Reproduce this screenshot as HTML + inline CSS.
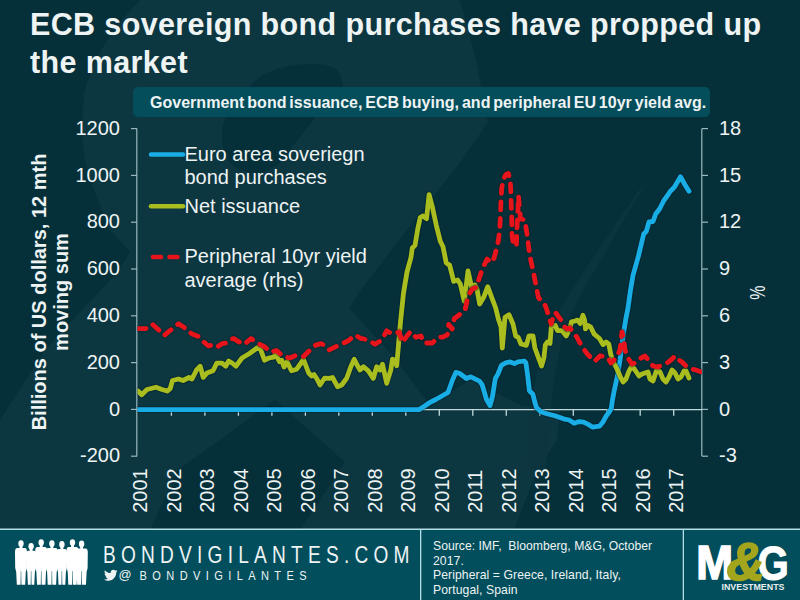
<!DOCTYPE html>
<html><head><meta charset="utf-8"><style>
html,body{margin:0;padding:0;width:800px;height:600px;overflow:hidden;background:#05303a;}
svg{position:absolute;left:0;top:0;display:block}
text{font-family:"Liberation Sans",Arial,sans-serif;}
</style></head><body>
<svg width="800" height="600" viewBox="0 0 800 600">
<rect x="0" y="0" width="800" height="600" fill="#0c3640"/>
<g fill="#05303a">
<path d="M460,0 L800,0 L800,530 L514,530 L537,470 L557,440 L560,412 L520,405 L470,380 L430,405 L392,355 L349,308 L360,291 L410,226 L462,160 L488,122 L476,60 Z"/>
<path d="M0,0 L140,0 Q95,45 84,95 Q78,150 92,185 L110,230 L130,252 L118,272 L82,310 L45,350 L0,420 Z"/>
<path d="M275,400 L345,462 L320,500 L300,530 L150,530 L178,470 Z"/>
<path d="M248,90 C258,72 285,63 318,64 C338,65 344,76 342,88 L316,117 L292,147 C284,164 266,176 247,172 C228,168 221,152 222,132 C223,114 236,100 248,90 Z"/>
</g>
<path d="M639,190 L645,185 Q620,225 600,262 Q575,300 563,335 Q553,375 550,420 L546,470 L526,470 L530,420 Q535,370 546,335 Q565,300 585,270 Z" fill="#0c3640" opacity="0.75"/>
<g fill="#eef3f3" font-weight="bold" font-size="30.5" letter-spacing="0.37">
<text x="30" y="35">ECB sovereign bond purchases have propped up</text>
<text x="30" y="72.7">the market</text>
</g>
<rect x="133" y="87" width="577" height="30" rx="5" fill="#044d5b"/>
<text x="150" y="107.5" fill="#eef3f3" font-weight="bold" font-size="16" letter-spacing="0.02" word-spacing="-1.6">Government bond issuance, ECB buying, and peripheral EU 10yr yield avg.</text>
<g stroke="#9ab8bd" stroke-width="1.2" fill="none">
<line x1="136.8" y1="128.6" x2="136.8" y2="456.2"/>
<line x1="701.8" y1="128.6" x2="701.8" y2="456.2"/>
<line x1="131" y1="128.6" x2="137" y2="128.6"/><line x1="702" y1="128.6" x2="708" y2="128.6"/><line x1="131" y1="175.4" x2="137" y2="175.4"/><line x1="702" y1="175.4" x2="708" y2="175.4"/><line x1="131" y1="222.2" x2="137" y2="222.2"/><line x1="702" y1="222.2" x2="708" y2="222.2"/><line x1="131" y1="269.0" x2="137" y2="269.0"/><line x1="702" y1="269.0" x2="708" y2="269.0"/><line x1="131" y1="315.8" x2="137" y2="315.8"/><line x1="702" y1="315.8" x2="708" y2="315.8"/><line x1="131" y1="362.6" x2="137" y2="362.6"/><line x1="702" y1="362.6" x2="708" y2="362.6"/><line x1="131" y1="409.4" x2="137" y2="409.4"/><line x1="702" y1="409.4" x2="708" y2="409.4"/><line x1="131" y1="456.2" x2="137" y2="456.2"/><line x1="702" y1="456.2" x2="708" y2="456.2"/>
</g>
<g stroke="#c2d9dc" stroke-width="1.3" fill="none">
<line x1="137" y1="409.6" x2="702" y2="409.6"/>
<line x1="171.4" y1="409.6" x2="171.4" y2="415.8"/><line x1="204.9" y1="409.6" x2="204.9" y2="415.8"/><line x1="238.4" y1="409.6" x2="238.4" y2="415.8"/><line x1="271.9" y1="409.6" x2="271.9" y2="415.8"/><line x1="305.4" y1="409.6" x2="305.4" y2="415.8"/><line x1="338.8" y1="409.6" x2="338.8" y2="415.8"/><line x1="372.3" y1="409.6" x2="372.3" y2="415.8"/><line x1="405.8" y1="409.6" x2="405.8" y2="415.8"/><line x1="439.3" y1="409.6" x2="439.3" y2="415.8"/><line x1="472.8" y1="409.6" x2="472.8" y2="415.8"/><line x1="506.3" y1="409.6" x2="506.3" y2="415.8"/><line x1="539.8" y1="409.6" x2="539.8" y2="415.8"/><line x1="573.3" y1="409.6" x2="573.3" y2="415.8"/><line x1="606.8" y1="409.6" x2="606.8" y2="415.8"/><line x1="640.2" y1="409.6" x2="640.2" y2="415.8"/><line x1="673.7" y1="409.6" x2="673.7" y2="415.8"/>
</g>
<g fill="#eef3f3" font-size="20">
<text x="120" y="134.8" text-anchor="end">1200</text><text x="120" y="181.6" text-anchor="end">1000</text><text x="120" y="228.4" text-anchor="end">800</text><text x="120" y="275.2" text-anchor="end">600</text><text x="120" y="322.0" text-anchor="end">400</text><text x="120" y="368.8" text-anchor="end">200</text><text x="120" y="415.6" text-anchor="end">0</text><text x="120" y="462.4" text-anchor="end">-200</text>
<text x="719" y="134.8">18</text><text x="719" y="181.6">15</text><text x="719" y="228.4">12</text><text x="719" y="275.2">9</text><text x="719" y="322.0">6</text><text x="719" y="368.8">3</text><text x="719" y="415.6">0</text><text x="719" y="462.4">-3</text>
<text transform="translate(147.1,512.8) rotate(-90)">2001</text><text transform="translate(180.6,512.8) rotate(-90)">2002</text><text transform="translate(214.1,512.8) rotate(-90)">2003</text><text transform="translate(247.6,512.8) rotate(-90)">2004</text><text transform="translate(281.1,512.8) rotate(-90)">2005</text><text transform="translate(314.6,512.8) rotate(-90)">2006</text><text transform="translate(348.0,512.8) rotate(-90)">2007</text><text transform="translate(381.5,512.8) rotate(-90)">2008</text><text transform="translate(415.0,512.8) rotate(-90)">2009</text><text transform="translate(448.5,512.8) rotate(-90)">2010</text><text transform="translate(482.0,512.8) rotate(-90)">2011</text><text transform="translate(515.5,512.8) rotate(-90)">2012</text><text transform="translate(549.0,512.8) rotate(-90)">2013</text><text transform="translate(582.5,512.8) rotate(-90)">2014</text><text transform="translate(616.0,512.8) rotate(-90)">2015</text><text transform="translate(649.5,512.8) rotate(-90)">2016</text><text transform="translate(682.9,512.8) rotate(-90)">2017</text>
</g>
<g fill="#eef3f3" font-size="20" font-weight="bold" text-anchor="middle">
<text transform="translate(45.6,292) rotate(-90)">Billions of US dollars, 12 mth</text>
<text transform="translate(67.5,292) rotate(-90)">moving sum</text>
</g>
<text transform="translate(764.6,292.7) rotate(-90) scale(0.8,1.08)" fill="#eef3f3" font-size="20" text-anchor="middle">%</text>
<defs><clipPath id="pc"><rect x="137.4" y="100" width="564.4" height="380"/></clipPath></defs>
<g fill="none" stroke-width="4.8" stroke-linecap="round" stroke-linejoin="round" clip-path="url(#pc)">
<polyline stroke="#021f26" stroke-opacity="0.4" stroke-width="7" points="137.0,409.6 419.0,409.6 424.0,406.5 430.5,402.1 435.8,399.5 448.0,392.5 452.4,380.3 455.9,372.4 459.4,373.3 466.4,378.5 470.8,376.8 479.5,381.1 482.1,384.6 486.5,399.5 490.0,405.6 492.6,396.0 495.3,378.5 497.9,374.1 501.4,365.4 505.8,362.8 510.1,361.9 514.5,363.6 518.0,361.9 524.1,361.0 525.9,362.8 527.6,375.0 529.4,390.8 532.9,394.3 534.6,401.3 536.4,407.4 540.8,411.8 546.0,413.5 555.6,416.0 563.5,418.8 569.1,420.0 574.2,423.3 579.2,421.6 583.7,422.2 588.2,424.4 592.7,427.2 599.5,426.1 602.9,422.2 606.2,416.0 609.6,411.5 611.3,408.1 612.4,400.2 614.1,391.2 615.8,383.4 617.5,376.0 620.0,360.0 622.0,344.0 624.0,330.0 626.0,318.0 628.0,308.0 630.3,291.3 633.0,275.3 638.3,256.7 643.7,234.0 646.3,231.3 649.0,222.0 653.0,221.5 655.7,214.0 659.7,208.7 663.7,200.7 667.7,195.3 670.3,191.3 674.3,187.3 680.5,176.7 685.0,184.7 689.0,191.3"/>
<polyline stroke="#19ade6" points="137.0,409.6 419.0,409.6 424.0,406.5 430.5,402.1 435.8,399.5 448.0,392.5 452.4,380.3 455.9,372.4 459.4,373.3 466.4,378.5 470.8,376.8 479.5,381.1 482.1,384.6 486.5,399.5 490.0,405.6 492.6,396.0 495.3,378.5 497.9,374.1 501.4,365.4 505.8,362.8 510.1,361.9 514.5,363.6 518.0,361.9 524.1,361.0 525.9,362.8 527.6,375.0 529.4,390.8 532.9,394.3 534.6,401.3 536.4,407.4 540.8,411.8 546.0,413.5 555.6,416.0 563.5,418.8 569.1,420.0 574.2,423.3 579.2,421.6 583.7,422.2 588.2,424.4 592.7,427.2 599.5,426.1 602.9,422.2 606.2,416.0 609.6,411.5 611.3,408.1 612.4,400.2 614.1,391.2 615.8,383.4 617.5,376.0 620.0,360.0 622.0,344.0 624.0,330.0 626.0,318.0 628.0,308.0 630.3,291.3 633.0,275.3 638.3,256.7 643.7,234.0 646.3,231.3 649.0,222.0 653.0,221.5 655.7,214.0 659.7,208.7 663.7,200.7 667.7,195.3 670.3,191.3 674.3,187.3 680.5,176.7 685.0,184.7 689.0,191.3"/>
<polyline stroke="#021f26" stroke-opacity="0.4" stroke-width="7" points="138.0,391.0 141.7,394.7 147.0,389.5 153.0,388.0 156.0,387.2 162.0,389.5 167.2,391.0 170.2,388.7 172.5,380.5 178.5,379.0 183.0,380.5 189.0,377.5 192.0,379.0 196.5,370.0 200.2,366.2 203.2,377.5 207.0,373.0 213.0,370.7 216.7,363.2 222.0,363.2 225.7,366.2 228.7,361.0 232.0,363.0 236.0,366.2 242.0,358.0 249.5,353.5 257.7,347.5 260.7,349.7 264.5,360.2 269.0,358.0 273.5,357.2 275.7,354.2 279.5,361.7 281.7,360.2 284.0,367.0 287.0,361.7 291.5,370.7 296.7,369.2 303.5,359.5 308.7,373.0 311.7,376.0 314.0,374.5 317.0,379.0 320.0,385.0 324.5,378.2 329.2,378.3 332.5,377.5 337.5,386.7 341.7,385.0 346.7,378.3 350.8,366.7 354.2,359.2 357.5,365.8 360.0,370.0 363.3,366.7 368.3,370.8 373.3,378.3 376.7,366.7 380.0,370.0 382.5,364.2 386.7,383.3 390.8,370.0 392.5,359.2 395.0,360.0 396.7,365.8 398.5,345.0 400.5,322.0 403.5,293.0 407.0,272.0 411.0,257.3 412.3,248.0 415.0,245.3 417.7,229.3 420.3,217.3 423.0,216.0 426.5,218.7 429.1,194.7 432.3,206.7 436.3,225.3 440.3,241.3 443.0,246.7 446.2,262.7 449.7,265.3 453.7,281.3 457.7,280.0 460.3,284.0 464.3,301.3 468.0,271.0 471.5,286.7 475.0,285.0 477.0,289.3 479.7,304.0 483.7,297.3 487.7,286.7 491.7,297.3 495.7,308.0 498.3,318.7 501.0,326.7 502.3,348.0 505.0,317.3 509.0,314.7 513.0,324.0 515.7,336.0 518.3,337.3 521.0,344.0 526.3,345.3 529.0,336.0 533.0,336.0 534.9,348.0 538.3,357.3 541.5,366.0 544.0,357.3 545.3,345.0 547.5,342.0 550.0,343.5 551.4,326.0 555.3,325.5 557.5,330.6 561.9,330.6 566.2,335.9 569.7,328.9 571.5,321.9 575.0,321.0 577.6,320.1 580.2,323.6 582.9,315.3 584.6,320.1 585.5,328.9 588.1,325.4 590.7,327.1 594.2,334.1 599.5,338.5 603.0,344.6 606.0,342.0 608.8,344.0 610.7,354.0 613.3,362.0 617.0,369.0 620.0,376.0 623.0,382.0 626.0,379.0 629.0,371.0 632.0,366.0 635.0,370.0 639.0,376.0 642.0,374.0 645.0,373.0 648.0,372.0 650.0,379.0 653.0,381.0 657.0,369.0 660.0,372.0 663.0,379.0 666.0,382.0 669.0,377.0 672.0,370.0 675.0,373.0 678.0,379.0 681.0,377.0 684.0,371.0 686.0,371.0 689.0,378.0"/>
<polyline stroke="#a9bd1f" points="138.0,391.0 141.7,394.7 147.0,389.5 153.0,388.0 156.0,387.2 162.0,389.5 167.2,391.0 170.2,388.7 172.5,380.5 178.5,379.0 183.0,380.5 189.0,377.5 192.0,379.0 196.5,370.0 200.2,366.2 203.2,377.5 207.0,373.0 213.0,370.7 216.7,363.2 222.0,363.2 225.7,366.2 228.7,361.0 232.0,363.0 236.0,366.2 242.0,358.0 249.5,353.5 257.7,347.5 260.7,349.7 264.5,360.2 269.0,358.0 273.5,357.2 275.7,354.2 279.5,361.7 281.7,360.2 284.0,367.0 287.0,361.7 291.5,370.7 296.7,369.2 303.5,359.5 308.7,373.0 311.7,376.0 314.0,374.5 317.0,379.0 320.0,385.0 324.5,378.2 329.2,378.3 332.5,377.5 337.5,386.7 341.7,385.0 346.7,378.3 350.8,366.7 354.2,359.2 357.5,365.8 360.0,370.0 363.3,366.7 368.3,370.8 373.3,378.3 376.7,366.7 380.0,370.0 382.5,364.2 386.7,383.3 390.8,370.0 392.5,359.2 395.0,360.0 396.7,365.8 398.5,345.0 400.5,322.0 403.5,293.0 407.0,272.0 411.0,257.3 412.3,248.0 415.0,245.3 417.7,229.3 420.3,217.3 423.0,216.0 426.5,218.7 429.1,194.7 432.3,206.7 436.3,225.3 440.3,241.3 443.0,246.7 446.2,262.7 449.7,265.3 453.7,281.3 457.7,280.0 460.3,284.0 464.3,301.3 468.0,271.0 471.5,286.7 475.0,285.0 477.0,289.3 479.7,304.0 483.7,297.3 487.7,286.7 491.7,297.3 495.7,308.0 498.3,318.7 501.0,326.7 502.3,348.0 505.0,317.3 509.0,314.7 513.0,324.0 515.7,336.0 518.3,337.3 521.0,344.0 526.3,345.3 529.0,336.0 533.0,336.0 534.9,348.0 538.3,357.3 541.5,366.0 544.0,357.3 545.3,345.0 547.5,342.0 550.0,343.5 551.4,326.0 555.3,325.5 557.5,330.6 561.9,330.6 566.2,335.9 569.7,328.9 571.5,321.9 575.0,321.0 577.6,320.1 580.2,323.6 582.9,315.3 584.6,320.1 585.5,328.9 588.1,325.4 590.7,327.1 594.2,334.1 599.5,338.5 603.0,344.6 606.0,342.0 608.8,344.0 610.7,354.0 613.3,362.0 617.0,369.0 620.0,376.0 623.0,382.0 626.0,379.0 629.0,371.0 632.0,366.0 635.0,370.0 639.0,376.0 642.0,374.0 645.0,373.0 648.0,372.0 650.0,379.0 653.0,381.0 657.0,369.0 660.0,372.0 663.0,379.0 666.0,382.0 669.0,377.0 672.0,370.0 675.0,373.0 678.0,379.0 681.0,377.0 684.0,371.0 686.0,371.0 689.0,378.0"/>
<polyline stroke="#021f26" stroke-opacity="0.35" stroke-width="7" stroke-dasharray="8 8.5" points="138.0,328.7 145.5,328.7 152.2,324.2 159.0,330.2 164.2,335.5 168.7,331.7 174.0,327.2 178.5,323.8 186.0,328.7 192.0,334.0 198.0,336.2 203.2,341.5 208.5,346.0 213.7,344.5 217.5,346.7 222.0,343.7 226.5,343.0 231.0,339.2 233.7,338.5 238.2,341.5 244.2,344.5 251.0,338.5 257.0,343.0 264.5,346.7 270.5,352.0 276.5,350.5 283.2,356.5 290.0,358.0 296.7,355.0 303.5,356.5 309.5,350.5 315.5,345.2 321.5,343.7 325.0,345.8 329.2,350.0 335.8,346.7 340.8,344.2 348.3,340.8 355.0,335.0 360.8,338.3 368.3,340.0 375.0,344.2 381.7,340.0 386.7,330.8 390.8,333.3 396.7,333.0 399.2,332.0 402.5,342.5 406.0,337.3 410.5,331.5 416.0,337.3 421.0,336.0 424.1,343.0 432.3,343.0 438.1,337.1 442.8,337.1 447.4,334.8 448.6,324.3 452.1,329.0 454.4,318.5 459.1,315.0 464.9,310.3 467.3,300.0 468.4,295.2 472.0,289.4 476.7,287.0 479.0,278.9 482.5,268.4 487.1,259.1 491.8,262.6 494.1,257.9 496.5,249.0 498.5,240.0 499.8,228.0 500.5,215.0 501.0,200.0 501.7,188.0 503.5,179.0 506.0,174.5 508.3,173.5 510.2,180.0 510.8,190.0 511.2,205.0 511.8,220.0 512.0,235.0 513.0,242.0 516.5,246.5 516.7,236.0 517.2,224.0 518.0,210.0 518.5,196.0 519.5,208.0 520.5,219.0 523.0,219.5 525.0,220.0 526.0,228.0 527.5,237.0 529.0,250.0 530.3,258.0 533.8,274.2 536.1,285.9 538.4,297.5 542.3,302.0 545.5,306.0 547.5,312.0 549.5,319.0 551.2,324.0 553.0,317.0 555.5,312.5 558.0,316.0 561.0,320.0 563.5,326.0 567.0,329.0 570.0,328.0 573.0,332.0 576.8,337.0 580.5,344.0 584.0,349.5 588.0,354.7 594.7,361.3 600.0,356.0 605.0,356.5 608.0,358.0 611.0,363.0 614.0,360.0 617.0,356.0 620.0,350.0 622.0,332.0 624.0,342.0 625.0,350.0 628.0,358.0 632.0,364.0 637.0,362.0 641.0,358.0 645.0,356.0 649.0,361.0 653.0,366.0 658.0,367.0 662.0,365.0 667.0,363.0 671.0,360.0 675.0,356.0 679.0,360.0 682.0,362.0 686.0,366.0 691.0,369.0 696.0,370.0 701.0,372.0"/>
<polyline stroke="#e8141b" stroke-dasharray="8 8.5" points="138.0,328.7 145.5,328.7 152.2,324.2 159.0,330.2 164.2,335.5 168.7,331.7 174.0,327.2 178.5,323.8 186.0,328.7 192.0,334.0 198.0,336.2 203.2,341.5 208.5,346.0 213.7,344.5 217.5,346.7 222.0,343.7 226.5,343.0 231.0,339.2 233.7,338.5 238.2,341.5 244.2,344.5 251.0,338.5 257.0,343.0 264.5,346.7 270.5,352.0 276.5,350.5 283.2,356.5 290.0,358.0 296.7,355.0 303.5,356.5 309.5,350.5 315.5,345.2 321.5,343.7 325.0,345.8 329.2,350.0 335.8,346.7 340.8,344.2 348.3,340.8 355.0,335.0 360.8,338.3 368.3,340.0 375.0,344.2 381.7,340.0 386.7,330.8 390.8,333.3 396.7,333.0 399.2,332.0 402.5,342.5 406.0,337.3 410.5,331.5 416.0,337.3 421.0,336.0 424.1,343.0 432.3,343.0 438.1,337.1 442.8,337.1 447.4,334.8 448.6,324.3 452.1,329.0 454.4,318.5 459.1,315.0 464.9,310.3 467.3,300.0 468.4,295.2 472.0,289.4 476.7,287.0 479.0,278.9 482.5,268.4 487.1,259.1 491.8,262.6 494.1,257.9 496.5,249.0 498.5,240.0 499.8,228.0 500.5,215.0 501.0,200.0 501.7,188.0 503.5,179.0 506.0,174.5 508.3,173.5 510.2,180.0 510.8,190.0 511.2,205.0 511.8,220.0 512.0,235.0 513.0,242.0 516.5,246.5 516.7,236.0 517.2,224.0 518.0,210.0 518.5,196.0 519.5,208.0 520.5,219.0 523.0,219.5 525.0,220.0 526.0,228.0 527.5,237.0 529.0,250.0 530.3,258.0 533.8,274.2 536.1,285.9 538.4,297.5 542.3,302.0 545.5,306.0 547.5,312.0 549.5,319.0 551.2,324.0 553.0,317.0 555.5,312.5 558.0,316.0 561.0,320.0 563.5,326.0 567.0,329.0 570.0,328.0 573.0,332.0 576.8,337.0 580.5,344.0 584.0,349.5 588.0,354.7 594.7,361.3 600.0,356.0 605.0,356.5 608.0,358.0 611.0,363.0 614.0,360.0 617.0,356.0 620.0,350.0 622.0,332.0 624.0,342.0 625.0,350.0 628.0,358.0 632.0,364.0 637.0,362.0 641.0,358.0 645.0,356.0 649.0,361.0 653.0,366.0 658.0,367.0 662.0,365.0 667.0,363.0 671.0,360.0 675.0,356.0 679.0,360.0 682.0,362.0 686.0,366.0 691.0,369.0 696.0,370.0 701.0,372.0"/>
</g>
<g fill="none" stroke-width="4.5" stroke-linecap="round" stroke-linejoin="round">
<line x1="151" y1="154.5" x2="183" y2="154.5" stroke="#19ade6"/>
<line x1="151" y1="206.3" x2="183" y2="206.3" stroke="#a9bd1f"/>
<line x1="153" y1="257" x2="180" y2="257" stroke="#e8141b" stroke-dasharray="8 8.5"/>
</g>
<g fill="#eef3f3" font-size="20">
<text x="184.5" y="161">Euro area soveriegn</text>
<text x="184.5" y="183.5">bond purchases</text>
<text x="184.5" y="212.5">Net issuance</text>
<text x="184.5" y="263">Peripheral 10yr yield</text>
<text x="184.5" y="286.5">average (rhs)</text>
</g>
<!-- footer -->
<rect x="0" y="529" width="800" height="71" fill="#024e5c"/>
<rect x="0" y="528.5" width="800" height="1.5" fill="#b3e0e6"/>
<rect x="420" y="529" width="1.3" height="71" fill="#b3e0e6"/>
<rect x="682.7" y="529" width="1.3" height="71" fill="#b3e0e6"/>
<text transform="translate(103,562.6) scale(0.78,1)" fill="#eef3f3" font-size="24.5" textLength="393" lengthAdjust="spacing">BONDVIGILANTES.COM</text>
<text transform="translate(118.6,578.9) scale(0.95,1)" fill="#eef3f3" font-size="13.6">@</text><text transform="translate(139.6,579.7) scale(0.85,1)" fill="#eef3f3" font-size="13" textLength="196.5" lengthAdjust="spacing"> BONDVIGILANTES</text>
<g fill="#eef3f3" font-size="12.2" letter-spacing="0.08">
<text x="433" y="550" style="white-space:pre" letter-spacing="0.01">Source: IMF,  Bloomberg, M&amp;G, October</text>
<text x="433" y="564.5">2017.</text>
<text x="433" y="579">Peripheral = Greece, Ireland, Italy,</text>
<text x="433" y="593.5">Portugal, Spain</text>
</g>

<g fill="#ffffff">
<ellipse cx="21" cy="543.6" rx="2.7" ry="3.4"/><rect x="19.6" y="544.8" width="2.8" height="4"/><path d="M16.8,548.1 Q15.0,548.5 15.0,551.5 L15.2,568 L16.2,572 L16.8,584.8 L20.6,584.8 L20.8,571 L21.2,571 L21.4,584.8 L25.2,584.8 L25.8,572 L26.8,568 L27.0,551.5 Q27.0,548.5 25.2,548.1 Z"/><ellipse cx="31.1" cy="546.3" rx="2.7" ry="3.4"/><rect x="29.7" y="547.5" width="2.8" height="4"/><path d="M27.9,550.8 Q26.1,551.2 26.1,554.2 L26.3,568 L27.3,572 L27.9,584.8 L30.7,584.8 L30.9,571 L31.3,571 L31.5,584.8 L34.3,584.8 L34.9,572 L35.9,568 L36.1,554.2 Q36.1,551.2 34.3,550.8 Z"/><ellipse cx="41.2" cy="542.6" rx="2.7" ry="3.4"/><rect x="39.8" y="543.8" width="2.8" height="4"/><path d="M37.0,547.1 Q35.2,547.5 35.2,550.5 L35.4,568 L36.4,572 L37.0,584.8 L40.8,584.8 L41.0,571 L41.4,571 L41.6,584.8 L45.4,584.8 L46.0,572 L47.0,568 L47.2,550.5 Q47.2,547.5 45.4,547.1 Z"/><ellipse cx="51.9" cy="543.6" rx="2.7" ry="3.4"/><rect x="50.5" y="544.8" width="2.8" height="4"/><path d="M47.7,548.1 Q45.9,548.5 45.9,551.5 L46.1,568 L47.1,572 L47.7,584.8 L51.5,584.8 L51.7,571 L52.1,571 L52.3,584.8 L56.1,584.8 L56.7,572 L57.7,568 L57.9,551.5 Q57.9,548.5 56.1,548.1 Z"/><ellipse cx="61.9" cy="544.5" rx="2.7" ry="3.4"/><rect x="60.5" y="545.7" width="2.8" height="4"/><path d="M58.5,549.0 Q56.7,549.4 56.7,552.4 L56.9,568 L57.9,572 L58.5,584.8 L61.5,584.8 L61.7,571 L62.1,571 L62.3,584.8 L65.3,584.8 L65.9,572 L66.9,568 L67.1,552.4 Q67.1,549.4 65.3,549.0 Z"/><ellipse cx="72.5" cy="542.6" rx="2.7" ry="3.4"/><rect x="71.1" y="543.8" width="2.8" height="4"/><path d="M68.3,547.1 Q66.5,547.5 66.5,550.5 L66.7,568 L67.7,572 L68.3,584.8 L72.1,584.8 L72.3,571 L72.7,571 L72.9,584.8 L76.7,584.8 L77.3,572 L78.3,568 L78.5,550.5 Q78.5,547.5 76.7,547.1 Z"/><ellipse cx="81.6" cy="544.0" rx="2.7" ry="3.4"/><rect x="80.2" y="545.2" width="2.8" height="4"/><path d="M77.2,548.5 Q75.4,548.9 75.4,551.9 L75.6,568 L76.6,572 L77.2,584.8 L81.2,584.8 L81.4,571 L81.8,571 L82.0,584.8 L86.0,584.8 L86.6,572 L87.6,568 L87.8,551.9 Q87.8,548.9 86.0,548.5 Z"/>
</g>
<svg x="104" y="568.4" width="13.6" height="13.6" viewBox="0 0 24 24"><path fill="#eef3f3" d="M23.954 4.569c-.885.389-1.83.654-2.825.775 1.014-.611 1.794-1.574 2.163-2.723-.951.555-2.005.959-3.127 1.184-.896-.959-2.173-1.559-3.591-1.559-2.717 0-4.92 2.203-4.92 4.917 0 .39.045.765.127 1.124C7.691 8.094 4.066 6.13 1.64 3.161c-.427.722-.666 1.561-.666 2.475 0 1.71.87 3.213 2.188 4.096-.807-.026-1.566-.248-2.228-.616v.061c0 2.385 1.693 4.374 3.946 4.827-.413.111-.849.171-1.296.171-.314 0-.615-.03-.916-.086.631 1.953 2.445 3.377 4.604 3.417-1.680 1.319-3.809 2.105-6.102 2.105-.39 0-.779-.023-1.17-.067 2.189 1.394 4.768 2.209 7.557 2.209 9.054 0 13.999-7.496 13.999-13.986 0-.209 0-.42-.015-.63.961-.689 1.8-1.56 2.46-2.548l-.047-.02z"/></svg>
<g font-family="Liberation Sans,Arial,sans-serif" font-weight="bold">
<text transform="translate(696.3,579.3) scale(0.93,1)" font-size="47.5" fill="#ffffff" stroke="#ffffff" stroke-width="1.6">M</text>
<text transform="translate(757.5,579.8) scale(0.84,1)" font-size="48" fill="#ffffff" stroke="#ffffff" stroke-width="1">G</text>
<text x="726.5" y="580" font-size="53" fill="#a3a51d" stroke="#a3a51d" stroke-width="1.6" font-style="italic">&amp;</text>
<text x="721.5" y="589.9" font-size="8.6" fill="#e8eeee" textLength="63" lengthAdjust="spacingAndGlyphs">INVESTMENTS</text>
</g>
</svg>
</body></html>
